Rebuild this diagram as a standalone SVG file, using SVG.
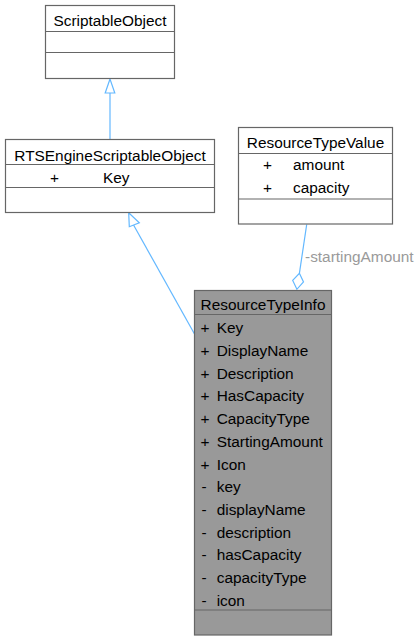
<svg xmlns="http://www.w3.org/2000/svg" width="419" height="641" viewBox="0 0 419 641">
<style>
text{font-family:"Liberation Sans",Arial,sans-serif;font-size:15.4px;fill:#000}
.box{fill:#fff;stroke:#666;stroke-width:1.2}
.hl{fill:#999;stroke:#666;stroke-width:1.2}
.sep{stroke:#666;stroke-width:1.2;fill:none}
.c{text-anchor:middle}
.edge{stroke:#63b8ff;stroke-width:1.2;fill:none}
.head{stroke:#63b8ff;stroke-width:1.2;fill:#fff}
.lbl{fill:#9a9a9a}
</style>
<rect width="419" height="641" fill="#fff"/>
<g id="connectors">
<line class="edge" x1="110" y1="92" x2="110" y2="139.5"/>
<polygon class="head" points="110,79 105.2,93 114.8,93"/>
<line class="edge" x1="194.5" y1="334" x2="133" y2="224"/>
<polygon class="head" points="128.7,212.7 129.3,226.7 139.3,222.7"/>
<line class="edge" x1="306.7" y1="224.5" x2="299.4" y2="273.3"/>
<polygon class="head" points="299.4,273.3 303.5,282 296.9,289.3 292.7,280.4"/>
<text class="lbl" x="305" y="262">-startingAmount</text>
</g>
<g id="ScriptableObject">
<rect class="box" x="45.5" y="5.5" width="129" height="73"/>
<line class="sep" x1="45.5" y1="31.5" x2="174.5" y2="31.5"/>
<line class="sep" x1="45.5" y1="52.5" x2="174.5" y2="52.5"/>
<text class="c" x="110" y="26">ScriptableObject</text>
</g>
<g id="RTSEngineScriptableObject">
<rect class="box" x="5.5" y="139.5" width="209" height="73"/>
<line class="sep" x1="5.5" y1="164.5" x2="214.5" y2="164.5"/>
<line class="sep" x1="5.5" y1="187.5" x2="214.5" y2="187.5"/>
<text class="c" x="110" y="160.5">RTSEngineScriptableObject</text>
<text x="50" y="182.5">+</text>
<text x="103" y="182.5">Key</text>
</g>
<g id="ResourceTypeValue">
<rect class="box" x="238.5" y="127.5" width="154" height="96.5"/>
<line class="sep" x1="238.5" y1="153.5" x2="392.5" y2="153.5"/>
<line class="sep" x1="238.5" y1="199" x2="392.5" y2="199"/>
<text class="c" x="315.5" y="148.3">ResourceTypeValue</text>
<text x="263" y="170">+</text>
<text x="293" y="170">amount</text>
<text x="263" y="192.7">+</text>
<text x="293" y="192.7">capacity</text>
</g>
<g id="ResourceTypeInfo">
<rect class="hl" x="194.5" y="290.5" width="137" height="344.5"/>
<line class="sep" x1="194.5" y1="314.5" x2="331.5" y2="314.5"/>
<line class="sep" x1="194.5" y1="610" x2="331.5" y2="610"/>
<text class="c" x="263" y="310">ResourceTypeInfo</text>
<text x="200.5" y="333.3">+</text><text x="216.7" y="333.3">Key</text>
<text x="200.5" y="356">+</text><text x="216.7" y="356">DisplayName</text>
<text x="200.5" y="378.7">+</text><text x="216.7" y="378.7">Description</text>
<text x="200.5" y="401.4">+</text><text x="216.7" y="401.4">HasCapacity</text>
<text x="200.5" y="424.1">+</text><text x="216.7" y="424.1">CapacityType</text>
<text x="200.5" y="446.8">+</text><text x="216.7" y="446.8">StartingAmount</text>
<text x="200.5" y="469.5">+</text><text x="216.7" y="469.5">Icon</text>
<text x="201.5" y="492.2">-</text><text x="216.7" y="492.2">key</text>
<text x="201.5" y="514.9">-</text><text x="216.7" y="514.9">displayName</text>
<text x="201.5" y="537.6">-</text><text x="216.7" y="537.6">description</text>
<text x="201.5" y="560.3">-</text><text x="216.7" y="560.3">hasCapacity</text>
<text x="201.5" y="583">-</text><text x="216.7" y="583">capacityType</text>
<text x="201.5" y="605.7">-</text><text x="216.7" y="605.7">icon</text>
</g>
</svg>
